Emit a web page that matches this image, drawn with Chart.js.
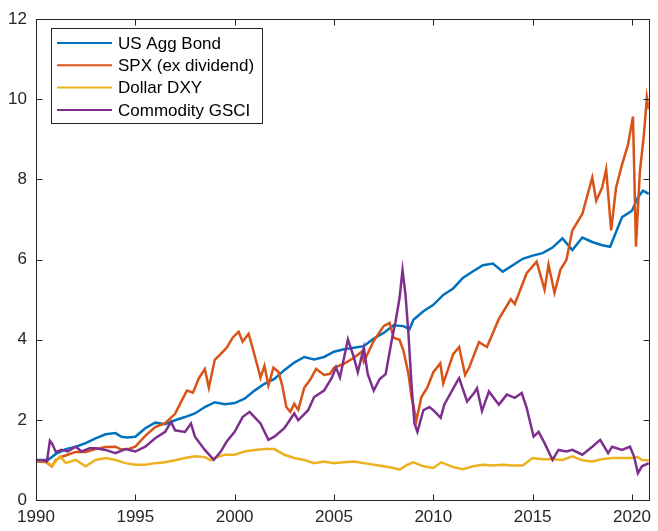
<!DOCTYPE html>
<html><head><meta charset="utf-8">
<script src="https://cdn.jsdelivr.net/npm/chart.js@4.4.0/dist/chart.umd.min.js"></script>
<style>html,body{margin:0;padding:0;background:#fff;}#wrap{width:658px;height:531px;position:relative;}</style>
</head><body><div id="wrap"><canvas id="c" width="658" height="531"></canvas></div>
<script>
const seriesNames = ['US Agg Bond', 'SPX (ex dividend)', 'Dollar DXY', 'Commodity GSCI'];
const seriesColors = ['#0072BD', '#D95319', '#EDB120', '#7E2F8E'];
const xTicks = [1990, 1995, 2000, 2005, 2010, 2015, 2020];
const yTicks = [0, 2, 4, 6, 8, 10, 12];

const bondYears = [1990,1990.6,1991,1991.5,1992,1992.5,1993,1993.5,1994,1994.3,1994.6,1995,1995.5,1996,1996.5,1997,1997.5,1998,1998.5,1999,1999.5,2000,2000.5,2001,2001.5,2002,2002.5,2003,2003.5,2004,2004.5,2005,2005.5,2006,2006.5,2007,2007.5,2008,2008.5,2008.8,2009,2009.5,2010,2010.5,2011,2011.5,2012,2012.5,2013,2013.5,2014,2014.5,2015,2015.5,2016,2016.5,2017,2017.5,2018,2018.5,2018.9,2019.5,2020,2020.3,2020.55,2020.85];
const bondValues = [1.00,1.00,1.15,1.27,1.33,1.42,1.54,1.64,1.67,1.58,1.56,1.58,1.79,1.93,1.89,1.99,2.07,2.16,2.32,2.44,2.39,2.42,2.53,2.73,2.90,3.02,3.24,3.43,3.57,3.51,3.57,3.70,3.76,3.80,3.84,4.03,4.17,4.36,4.34,4.26,4.50,4.71,4.87,5.12,5.28,5.55,5.71,5.86,5.90,5.70,5.86,6.02,6.10,6.16,6.30,6.53,6.24,6.55,6.44,6.36,6.32,7.06,7.22,7.55,7.72,7.64];

const spxYears = [1990,1990.5,1990.8,1991,1991.3,1991.6,1992,1992.5,1993,1993.5,1994,1994.3,1994.7,1995,1995.5,1996,1996.5,1997,1997.3,1997.6,1997.9,1998.2,1998.5,1998.7,1999,1999.3,1999.6,1999.9,2000.2,2000.4,2000.7,2000.9,2001.2,2001.3,2001.5,2001.7,2001.95,2002.2,2002.4,2002.6,2002.8,2003,2003.2,2003.5,2003.8,2004.1,2004.5,2004.8,2005,2005.5,2006,2006.4,2006.5,2007,2007.5,2007.8,2008,2008.3,2008.5,2008.75,2008.9,2009.15,2009.4,2009.7,2010,2010.35,2010.5,2010.8,2011,2011.3,2011.6,2011.8,2012.3,2012.7,2013.3,2013.9,2014.1,2014.7,2015.2,2015.6,2015.8,2016.1,2016.4,2016.7,2017,2017.5,2018,2018.2,2018.5,2018.7,2018.95,2019.2,2019.5,2019.8,2020.05,2020.2,2020.4,2020.6,2020.75,2020.85];
const spxValues = [0.96,0.95,0.84,1.00,1.08,1.13,1.20,1.20,1.27,1.32,1.33,1.26,1.28,1.33,1.60,1.82,1.92,2.15,2.45,2.73,2.68,3.04,3.27,2.80,3.50,3.65,3.80,4.05,4.20,3.95,4.15,3.80,3.25,3.05,3.35,2.86,3.30,3.20,2.85,2.32,2.20,2.40,2.25,2.80,3.00,3.27,3.12,3.15,3.30,3.40,3.55,3.70,3.45,3.97,4.34,4.42,4.05,4.00,3.72,3.14,2.57,1.99,2.57,2.81,3.19,3.41,2.91,3.35,3.64,3.82,3.12,3.30,3.94,3.82,4.52,5.01,4.89,5.66,5.95,5.25,5.87,5.17,5.75,5.99,6.73,7.14,8.05,7.47,7.80,8.25,6.73,7.80,8.37,8.87,9.57,6.32,8.21,9.11,10.05,9.75];

const dxyYears = [1990,1990.5,1990.8,1991.2,1991.5,1992,1992.5,1993,1993.5,1994,1994.5,1995,1995.5,1996,1996.5,1997,1997.5,1998,1998.5,1998.8,1999,1999.5,2000,2000.5,2001,2001.5,2002,2002.5,2003,2003.5,2004,2004.5,2005,2005.5,2006,2006.5,2007,2007.5,2008,2008.3,2008.7,2009,2009.5,2010,2010.4,2011,2011.5,2012,2012.5,2013,2013.5,2014,2014.5,2015,2015.5,2016,2016.5,2017,2017.5,2018,2018.5,2019,2019.5,2020,2020.3,2020.5,2020.85];
const dxyValues = [0.99,0.96,0.86,1.09,0.92,1.00,0.84,1.00,1.05,1.00,0.92,0.88,0.88,0.92,0.94,0.99,1.05,1.09,1.07,0.99,1.05,1.13,1.13,1.21,1.25,1.27,1.27,1.13,1.05,1.00,0.92,0.96,0.92,0.94,0.96,0.92,0.88,0.84,0.80,0.76,0.88,0.94,0.84,0.80,0.94,0.82,0.77,0.84,0.88,0.86,0.88,0.86,0.86,1.05,1.02,1.02,1.00,1.09,0.99,0.96,1.02,1.05,1.05,1.05,1.07,1.00,0.99];

const gsciYears = [1990,1990.3,1990.55,1990.7,1990.8,1991,1991.3,1991.6,1992,1992.3,1992.7,1993,1993.5,1994,1994.5,1995,1995.5,1996,1996.5,1996.8,1997,1997.5,1997.8,1998,1998.5,1998.95,1999.3,1999.6,2000,2000.4,2000.75,2001,2001.3,2001.7,2002,2002.5,2003,2003.2,2003.7,2004,2004.5,2004.9,2005.1,2005.3,2005.7,2006,2006.2,2006.5,2006.7,2007,2007.3,2007.6,2007.9,2008.1,2008.3,2008.45,2008.6,2008.75,2008.9,2009.05,2009.2,2009.5,2009.8,2010.05,2010.37,2010.55,2011.2,2011.3,2011.7,2012.05,2012.2,2012.45,2012.8,2013.3,2013.7,2014.1,2014.45,2014.7,2015.05,2015.3,2015.6,2016,2016.3,2016.7,2017,2017.5,2018,2018.4,2018.8,2019,2019.5,2019.9,2020.1,2020.3,2020.5,2020.85];
const gsciValues = [0.99,0.99,0.96,1.48,1.42,1.20,1.25,1.21,1.33,1.21,1.29,1.29,1.25,1.17,1.27,1.21,1.33,1.54,1.70,1.95,1.74,1.70,1.91,1.58,1.25,1.00,1.21,1.46,1.70,2.07,2.20,2.07,1.91,1.50,1.58,1.79,2.16,1.99,2.24,2.57,2.73,3.06,3.31,3.06,4.01,3.56,3.19,3.80,3.14,2.73,3.02,3.14,3.97,4.46,5.04,5.74,5.12,4.13,2.90,1.91,1.70,2.24,2.32,2.22,2.05,2.38,2.96,3.04,2.46,2.67,2.79,2.22,2.71,2.38,2.63,2.55,2.67,2.30,1.58,1.70,1.42,1.00,1.25,1.21,1.25,1.13,1.33,1.50,1.17,1.33,1.25,1.33,1.09,0.67,0.84,0.92];

const FONT = '"Liberation Sans", Arial, Helvetica, sans-serif';
const AXIS_COLOR = '#262626';

function toPoints(xs, ys) { return xs.map((x, i) => ({ x: x, y: ys[i] })); }
const allX = [bondYears, spxYears, dxyYears, gsciYears];
const allY = [bondValues, spxValues, dxyValues, gsciValues];

const datasets = seriesNames.map((name, i) => ({
  label: name,
  data: toPoints(allX[i], allY[i]),
  borderColor: seriesColors[i],
  backgroundColor: seriesColors[i],
  borderWidth: 2.5,
  pointRadius: 0,
  tension: 0,
  fill: false,
  order: 4 - i
}));

const boxPlugin = {
  id: 'matlabBox',
  afterDatasetsDraw(chart) {
    const { ctx, chartArea: a, scales } = chart;
    ctx.save();
    ctx.strokeStyle = AXIS_COLOR;
    ctx.lineWidth = 1;
    const L = Math.round(a.left) + 0.5, R = Math.round(a.right) + 0.5;
    const T = Math.round(a.top) + 0.5, B = Math.round(a.bottom) + 0.5;
    ctx.strokeRect(L, T, R - L, B - T);
    const tl = 6;
    ctx.beginPath();
    xTicks.forEach(v => {
      const px = Math.round(scales.x.getPixelForValue(v)) + 0.5;
      ctx.moveTo(px, B); ctx.lineTo(px, B - tl);
      ctx.moveTo(px, T); ctx.lineTo(px, T + tl);
    });
    yTicks.forEach(v => {
      const py = Math.round(scales.y.getPixelForValue(v)) + 0.5;
      ctx.moveTo(L, py); ctx.lineTo(L + tl, py);
      ctx.moveTo(R, py); ctx.lineTo(R - tl, py);
    });
    ctx.stroke();
    ctx.restore();
  },
  afterDraw(chart) {
    const ctx = chart.ctx;
    const bx = 51, by = 28, bw = 211, bh = 95;
    const rows = [43, 65.3, 87.6, 110];
    ctx.save();
    ctx.fillStyle = '#ffffff';
    ctx.fillRect(bx, by, bw, bh);
    ctx.strokeStyle = AXIS_COLOR;
    ctx.lineWidth = 1;
    ctx.strokeRect(bx + 0.5, by + 0.5, bw, bh);
    ctx.font = '17px ' + FONT;
    ctx.textBaseline = 'middle';
    ctx.textAlign = 'left';
    chart.data.datasets.forEach((ds, i) => {
      const y = rows[i];
      ctx.strokeStyle = ds.borderColor;
      ctx.lineWidth = 2;
      ctx.beginPath();
      ctx.moveTo(57, y); ctx.lineTo(112, y);
      ctx.stroke();
      ctx.fillStyle = '#000000';
      ctx.fillText(ds.label, 118, y + 1);
    });
    ctx.restore();
  }
};

new Chart(document.getElementById('c'), {
  type: 'line',
  data: { datasets: datasets },
  plugins: [boxPlugin],
  options: {
    responsive: false,
    animation: false,
    devicePixelRatio: 1,
    layout: { padding: { top: 13, right: 4, left: 0, bottom: 0 } },
    plugins: { legend: { display: false }, tooltip: { enabled: false } },
    scales: {
      x: {
        type: 'linear',
        min: 1990,
        max: 2020.85,
        afterBuildTicks: s => { s.ticks = xTicks.map(v => ({ value: v })); },
        afterFit: s => { s.height = 31; },
        grid: { display: false, drawTicks: false },
        border: { display: false },
        ticks: {
          callback: v => String(v),
          font: { family: FONT, size: 17 },
          color: AXIS_COLOR,
          padding: 7,
          maxRotation: 0,
          autoSkip: false
        }
      },
      y: {
        type: 'linear',
        min: 0,
        max: 12,
        afterBuildTicks: s => { s.ticks = yTicks.map(v => ({ value: v })); },
        afterFit: s => { s.width = 36; },
        grid: { display: false, drawTicks: false },
        border: { display: false },
        ticks: {
          callback: v => String(v),
          font: { family: FONT, size: 17 },
          color: AXIS_COLOR,
          padding: 9
        }
      }
    }
  }
});
</script>
</body></html>
